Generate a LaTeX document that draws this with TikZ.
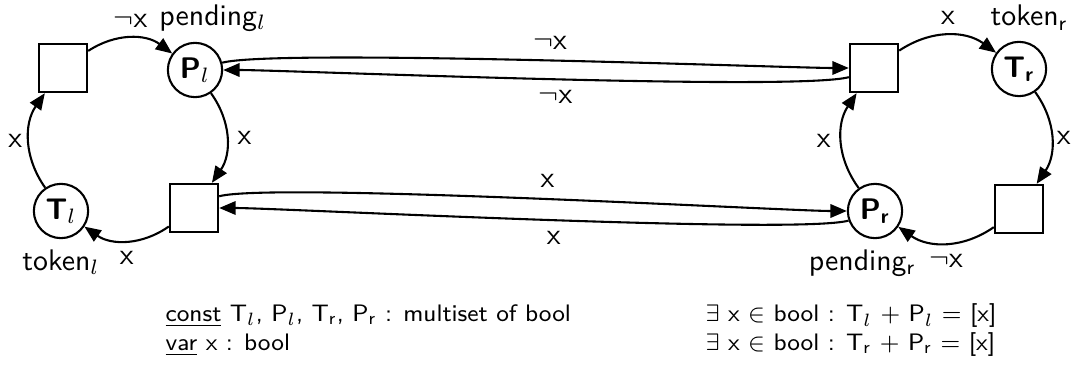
\documentclass[tikz,border=0pt]{standalone}
\usepackage{amsmath, amssymb}
\usepackage{tikz}
\usetikzlibrary{arrows.meta, positioning}
\renewcommand{\familydefault}{\sfdefault}
\tikzset{
  every picture/.style={font=\sffamily, >={Triangle[length=5.5pt,width=4.5pt]}},
  place/.style={draw, circle, line width=0.7pt, minimum size=0.64cm, inner sep=0pt,
                font=\sffamily\bfseries},
  trans/.style={draw, rectangle, line width=0.7pt, minimum size=0.57cm, inner sep=0pt},
  tag/.style={font=\sffamily\mdseries},
  flow/.style={->, line width=0.7pt},
  decl/.style={anchor=west, inner sep=1pt, font=\sffamily\footnotesize},
}

\begin{document}
\begin{tikzpicture}[x=0.0118cm, y=0.0118cm]
  \useasboundingbox (0,0) rectangle (1074,-381);
  % left ring
  \node[trans] (tl) at (63,-68) {};
  \node[place, label={[tag, xshift=0.21cm]above:pending$_l$}] (Pl) at (195,-70) {P$_l$};
  \node[trans] (bl) at (194,-208) {};
  \node[place, label={[tag]below:token$_l$}] (Tl) at (61,-211) {T$_l$};
  \draw[flow] (tl) to[bend left=35] node[auto] {$\neg$x} (Pl);
  \draw[flow] (Pl) to[bend left=35] node[auto] {x} (bl);
  \draw[flow] (bl) to[bend left=35] node[auto] {x} (Tl);
  \draw[flow] (Tl) to[bend left=35] node[auto, inner sep=2pt] {x} (tl);
  % right ring
  \node[trans] (tr) at (874,-68) {};
  \node[place, label={[tag, xshift=0.12cm]above:token$_{\text{r}}$}] (Tr) at (1019,-69) {T$_{\text{r}}$};
  \node[trans] (br) at (1019,-209) {};
  \node[place, label={[tag, xshift=-0.15cm]below:pending$_{\text{r}}$}] (Pr) at (875,-211) {P$_{\text{r}}$};
  \draw[flow] (tr) to[bend left=35] node[auto] {x} (Tr);
  \draw[flow] (Tr) to[bend left=35] node[auto, inner sep=1.5pt] {x} (br);
  \draw[flow] (br) to[bend left=35] node[auto] {$\neg$x} (Pr);
  \draw[flow] (Pr) to[bend left=35] node[auto] {x} (tr);
  % links between the rings
  \draw[flow] (Pl.15) .. controls +(15:55) and +(180:60) .. node[above, pos=0.52] {$\neg$x} (tr.west);
  \draw[flow] (tr.200) .. controls +(195:55) and +(0:60) .. node[below, pos=0.48] {$\neg$x} (Pl.east);
  \draw[flow] (bl.25) .. controls +(15:55) and +(180:60) .. node[above, pos=0.52] {x} (Pr.west);
  \draw[flow] (Pr.200) .. controls +(195:55) and +(0:60) .. node[below, pos=0.48] {x} (bl.east);
  % declarations
  \node[decl] (cdecl) at (162,-316) {\underline{const} T$_l$, P$_l$, T$_{\text{r}}$, P$_{\text{r}}$ : multiset of bool};
  \node[decl] (vdecl) at (162,-345) {\underline{var} x : bool};
  \node[decl] (invl) at (702,-316) {$\exists$ x $\in$ bool : T$_l$ $+$ P$_l$ $=$ [x]};
  \node[decl] (invr) at (702,-345) {$\exists$ x $\in$ bool : T$_{\text{r}}$ $+$ P$_{\text{r}}$ $=$ [x]};
\end{tikzpicture}
\end{document}
